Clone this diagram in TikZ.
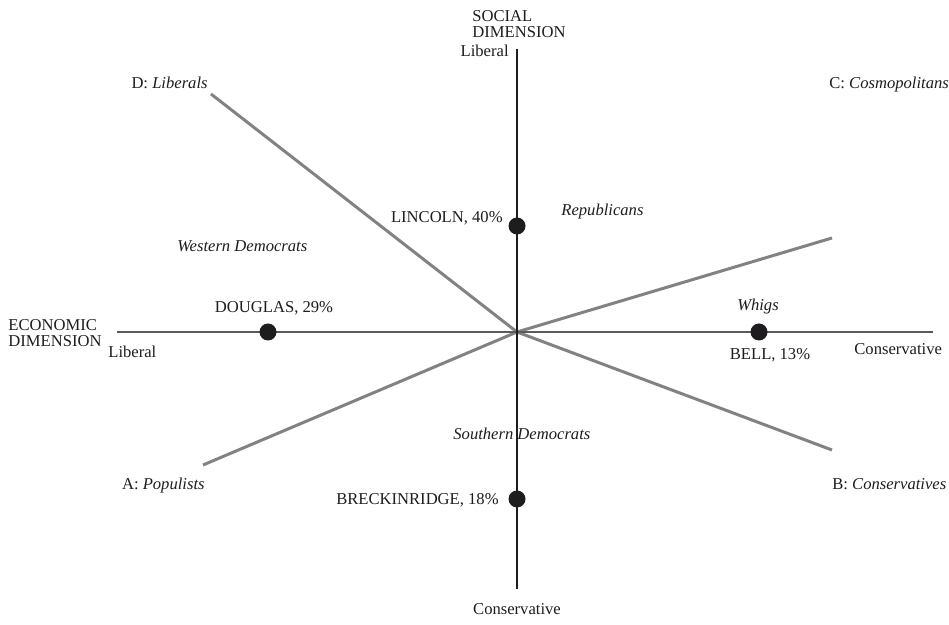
\documentclass[tikz,border=0pt]{standalone}
\usepackage{fontspec}
\setmainfont{Liberation Serif}
\definecolor{rayGray}{RGB}{130,130,130}
\definecolor{axisGray}{RGB}{90,90,90}
\definecolor{dotBlack}{RGB}{30,28,30}
\begin{document}
\begin{tikzpicture}[x=0.5pt, y=-0.5pt, font=\fontsize{8.3}{8.4}\selectfont,
    txt/.style={inner sep=0pt, text=dotBlack},
    ray/.style={line width=1.5pt, draw=rayGray},
    dot/.style={circle, fill=dotBlack, inner sep=0pt, minimum size=8.5pt}]
      \useasboundingbox (0,0) rectangle (949,625);
      %
      \coordinate (O) at (517,332);              % origin
      \coordinate (socTop) at (517,49);          % axes
      \coordinate (socBot) at (517,589);
      \coordinate (ecoLeft) at (117,332);
      \coordinate (ecoRight) at (933,332);
      %
      \coordinate (endD) at (211,94);            % quadrant rays
      \coordinate (endC) at (832,238);
      \coordinate (endA) at (203,465);
      \coordinate (endB) at (832,450);
      %
      \draw[ray] (O) -- (endD);
      \draw[ray] (O) -- (endC);
      \draw[ray] (O) -- (endA);
      \draw[ray] (O) -- (endB);
      %
      \draw[line width=1pt, axisGray] (ecoLeft) -- (ecoRight);
      \draw[line width=1pt, dotBlack] (socTop) -- (socBot);
      %
      \node[txt, anchor=west, align=left] (socdim) at (472,24) {SOCIAL\\DIMENSION};
      \node[txt, anchor=base east] (socLib) at (509,57) {Liberal};
      \node[txt, anchor=base] (socCon) at (517,615) {Conservative};
      %%
      \node[txt, anchor=west, align=left] (ecodim) at (8,333) {ECONOMIC\\DIMENSION};
      \node[txt, anchor=base west] (ecoLib) at (108,358) {Liberal};
      \node[txt, anchor=base west] (ecoCon) at (854,355) {Conservative};
      %
      \node[txt, anchor=base east] (qD) at (208,89) {D: \textit{Liberals}};        % quadrants
      \node[txt, anchor=base west] (qC) at (829,89) {C: \textit{Cosmopolitans}};
      \node[txt, anchor=base east] (qA) at (205,490) {A: \textit{Populists}};
      \node[txt, anchor=base west] (qB) at (832,490) {B: \textit{Conservatives}};
      %
      \node[dot] (lincoln) at (517,226) {};     % candidates
      \node[dot] (douglas) at (268,332) {};
      \node[dot] (bell) at (759,332) {};
      \node[dot] (breck) at (517,499) {};
      %%
      \node[txt, anchor=base east] (lincolnLbl) at (503,223) {LINCOLN, 40\%};
      \node[txt, anchor=base] (douglasLbl) at (274,313) {DOUGLAS, 29\%};
      \node[txt, anchor=base] (bellLbl) at (770,360) {BELL, 13\%};
      \node[txt, anchor=base east] (breckLbl) at (499,505) {BRECKINRIDGE, 18\%};
      %
      \node[txt, anchor=base west] (rep) at (561,216) {\textit{Republicans}};   % parties
      \node[txt, anchor=base west] (wdem) at (177,252) {\textit{Western Democrats}};
      \node[txt, anchor=base] (whig) at (758,311) {\textit{Whigs}};
      \node[txt, anchor=base west] (sdem) at (453,440) {\textit{Southern Democrats}};
      %
    \end{tikzpicture}
\end{document}
